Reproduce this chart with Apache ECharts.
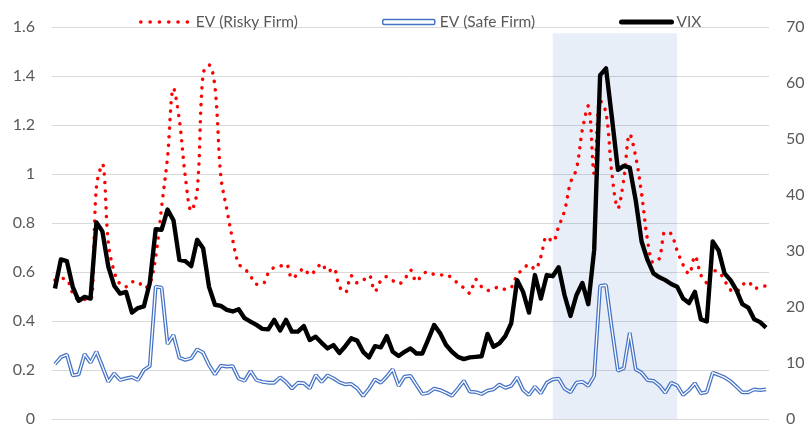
<!DOCTYPE html>
<html><head><meta charset="utf-8">
<script src="https://cdn.jsdelivr.net/npm/echarts@6/dist/echarts.min.js"></script>
<style>html,body{margin:0;padding:0;background:#fff}#c{width:808px;height:427px}</style>
</head><body><div id="c"></div>
<script>
// Monthly periods (121 observations)
const categories = [];
for (let k = 0; k < 121; k++) {
  const y = 2001 + Math.floor(k / 12), m = (k % 12) + 1;
  categories.push(y + '-' + (m < 10 ? '0' + m : m));
}
const seriesNames = ['EV (Risky Firm)', 'EV (Safe Firm)', 'VIX'];
const evRisky = [0.567,0.574,0.570,0.513,0.488,0.488,0.486,0.95,1.04,0.72,0.60,0.55,0.54,0.56,0.56,0.535,0.55,0.663,0.867,1.07,1.35,1.22,0.99,0.85,0.93,1.41,1.445,1.356,0.989,0.856,0.73,0.633,0.614,0.584,0.55,0.55,0.595,0.619,0.624,0.633,0.574,0.592,0.615,0.588,0.608,0.635,0.601,0.615,0.54,0.516,0.585,0.556,0.566,0.586,0.521,0.565,0.581,0.565,0.552,0.570,0.608,0.561,0.590,0.601,0.590,0.588,0.589,0.574,0.554,0.535,0.513,0.570,0.540,0.524,0.532,0.539,0.529,0.537,0.588,0.612,0.631,0.611,0.663,0.744,0.724,0.785,0.850,0.965,1.02,1.18,1.278,1.00,1.30,1.25,1.00,0.86,0.98,1.163,1.071,0.921,0.731,0.638,0.656,0.765,0.755,0.687,0.629,0.592,0.665,0.588,0.556,0.605,0.601,0.565,0.527,0.520,0.547,0.561,0.532,0.540,0.543];
const evSafe = [0.224,0.252,0.263,0.178,0.182,0.265,0.230,0.275,0.214,0.152,0.186,0.159,0.166,0.171,0.159,0.200,0.216,0.540,0.536,0.306,0.343,0.250,0.241,0.248,0.284,0.271,0.220,0.182,0.218,0.214,0.216,0.165,0.156,0.196,0.159,0.152,0.148,0.148,0.170,0.151,0.124,0.148,0.146,0.125,0.180,0.151,0.178,0.166,0.150,0.141,0.143,0.125,0.094,0.124,0.162,0.148,0.173,0.203,0.135,0.173,0.176,0.139,0.102,0.107,0.124,0.118,0.107,0.095,0.124,0.156,0.112,0.110,0.102,0.116,0.121,0.141,0.127,0.135,0.170,0.118,0.098,0.132,0.105,0.148,0.162,0.165,0.124,0.109,0.148,0.152,0.135,0.176,0.543,0.546,0.365,0.197,0.207,0.352,0.203,0.189,0.159,0.156,0.137,0.107,0.148,0.137,0.098,0.118,0.146,0.105,0.110,0.189,0.180,0.170,0.154,0.132,0.109,0.109,0.121,0.118,0.121];
const vix = [23.3,28.5,28.2,23.6,21.1,21.8,21.5,35.1,33.5,27.2,23.8,22.4,22.7,19.0,19.8,20.1,24.3,33.9,33.8,37.4,35.5,28.4,28.2,27.3,32.0,30.5,23.6,20.4,20.2,19.5,19.2,19.6,18.0,17.4,16.8,16.1,16.0,17.7,15.8,17.7,15.6,15.6,16.6,14.1,14.7,13.6,12.6,13.2,11.8,13.0,14.4,14.0,12.0,11.0,13.0,12.8,14.8,12.0,11.25,12.0,12.6,11.7,11.7,14.2,16.8,15.3,13.2,12.0,11.1,10.7,11.0,11.1,11.2,15.2,12.9,13.5,14.8,17.1,24.8,22.7,19.0,25.7,21.5,25.7,25.5,27.1,22.1,18.4,22.1,24.3,20.5,30.2,61.4,62.6,53.7,44.5,45.2,44.9,39.1,31.7,28.4,26.0,25.3,24.8,24.1,23.6,21.5,20.7,22.7,17.8,17.4,31.7,30.1,26.0,24.8,23.0,20.5,19.9,17.8,17.3,16.3];
// Shaded crisis period
const bandStart = '2008-01';
const bandEnd = '2009-10';
const bandTop = 1.575;
// Axis scales
const leftMin = 0, leftMax = 1.6, leftStep = 0.2;
const rightMin = 0, rightMax = 70, rightStep = 10;

const FONT = 'Lato';
const legendText = {fontFamily: FONT, fontSize: 15.5, color: '#595959'};
const chart = echarts.init(document.getElementById('c'), null, {renderer: 'canvas'});
chart.setOption({
  animation: false,
  backgroundColor: '#fff',
  grid: {left: 52, right: 39, top: 27, bottom: 8, containLabel: false},
  legend: [
    {left: 134, top: 9, itemWidth: 50, itemHeight: 5, textStyle: legendText,
     data: [{name: seriesNames[0], itemStyle: {opacity: 0},
             lineStyle: {color: '#ff0000', width: 3.6, type: [0.1, 9.2], cap: 'round'}}]},
    {left: 377, top: 9, itemWidth: 52, itemHeight: 5, textStyle: legendText,
     data: [{name: seriesNames[1], icon: 'roundRect',
             itemStyle: {color: '#ffffff', borderColor: '#4472C4', borderWidth: 1.5}}]},
    {left: 614, top: 9, itemWidth: 50, itemHeight: 5, textStyle: legendText,
     data: [{name: seriesNames[2], itemStyle: {opacity: 0},
             lineStyle: {color: '#000000', width: 5, cap: 'round'}}]}
  ],
  xAxis: {
    type: 'category', data: categories, boundaryGap: true,
    axisLine: {show: false}, axisTick: {show: false}, axisLabel: {show: false}, splitLine: {show: false}
  },
  yAxis: [
    {type: 'value', min: leftMin, max: leftMax, interval: leftStep,
     axisLine: {show: false}, axisTick: {show: false},
     axisLabel: {fontFamily: FONT, fontSize: 16, color: '#595959', margin: 17},
     splitLine: {lineStyle: {color: '#d9d9d9', width: 1}}},
    {type: 'value', min: rightMin, max: rightMax, interval: rightStep, position: 'right',
     axisLine: {show: false}, axisTick: {show: false},
     axisLabel: {fontFamily: FONT, fontSize: 16, color: '#595959', margin: 17},
     splitLine: {show: false}}
  ],
  series: [
    {name: seriesNames[0], type: 'line', yAxisIndex: 0, data: evRisky, symbol: 'none', smooth: 0.35,
     lineStyle: {color: '#ff0000', width: 3.5, type: [0.1, 8.4], cap: 'round'},
     itemStyle: {color: '#ff0000'},
     markArea: {silent: true, z: 1, itemStyle: {color: 'rgba(68,114,196,0.12)'},
       data: [[{xAxis: bandStart, yAxis: 0}, {xAxis: bandEnd, yAxis: bandTop}]]}},
    {name: seriesNames[1], type: 'line', yAxisIndex: 0, data: evSafe, symbol: 'none',
     lineStyle: {color: '#4472C4', width: 3.8}, itemStyle: {color: '#4472C4'}},
    {name: 'safeInner', type: 'line', yAxisIndex: 0, data: evSafe, symbol: 'none',
     lineStyle: {color: '#ffffff', width: 1.3}, itemStyle: {color: '#ffffff'}},
    {name: seriesNames[2], type: 'line', yAxisIndex: 1, data: vix, symbol: 'none',
     lineStyle: {color: '#000000', width: 4.4, join: 'round'}, itemStyle: {color: '#000000'}}
  ]
});
</script></body></html>
